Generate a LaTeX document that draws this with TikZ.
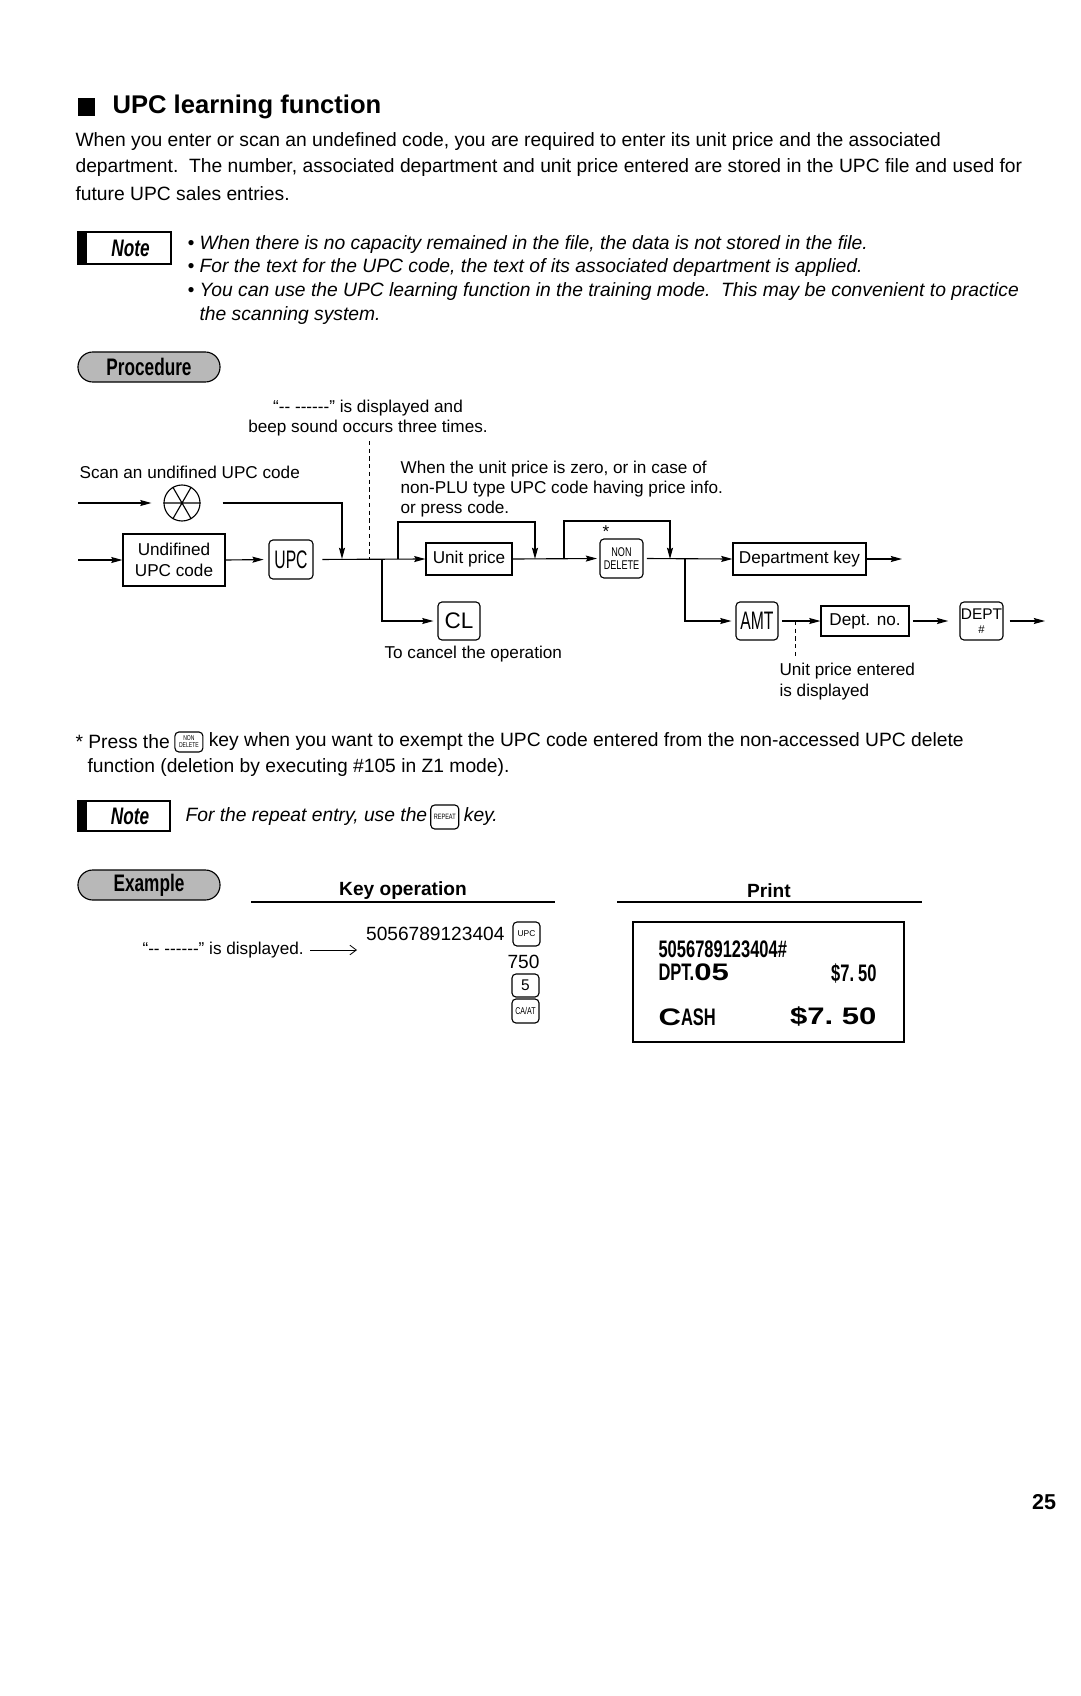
\documentclass[tikz,border=0pt]{standalone}
\usepackage{fontspec}
\setmainfont{Liberation Sans}
\newfontfamily\narrowfont[FakeStretch=0.72]{Liberation Sans}
\newfontfamily\keyfont[FakeStretch=0.62]{Liberation Sans}
\newfontfamily\rcptfont[FakeStretch=0.69]{Liberation Sans}
\newfontfamily\widefont[FakeStretch=1.3]{Liberation Sans}
\usetikzlibrary{arrows.meta,positioning}
\newcommand\fsz[2]{\fontsize{#1}{#2}\selectfont}
\newcommand\flowf{\fsz{12.2}{14.5}}
\newcommand\bodyf{\fsz{13.7}{18}}
\newcommand\notef{\itshape\fsz{13.7}{17}}
\newcommand\dashtxt{“\mbox{-}\mbox{-} \mbox{-}\mbox{-}\mbox{-}\mbox{-}\mbox{-}\mbox{-}”}

\begin{document}
\begin{tikzpicture}[x=0.025cm,y=-0.025cm,>={Stealth[length=2.8mm,width=1.5mm,inset=0.4mm]},line width=0.8pt,
  txt/.style={inner sep=0pt,anchor=west},
  plainbox/.style={draw,inner sep=0pt,align=center,font=\flowf},
  keycap/.style={draw,rounded corners=0.1cm,inner sep=0pt,align=center},
  pill/.style={draw,fill=black!28,rounded corners=0.37cm,minimum width=3.55cm,minimum height=0.75cm,
    inner sep=0pt,font=\narrowfont\bfseries\fsz{17}{20}},
  notebox/.style={draw,minimum width=2.325cm,minimum height=0.8cm,inner sep=0pt,
    font=\narrowfont\bfseries\itshape\fsz{17}{18},
    path picture={\fill (path picture bounding box.south west) rectangle ([xshift=0.225cm]path picture bounding box.north west);}}]
\fill[white] (0,0) rectangle (1080,1696);
\useasboundingbox (0,0) rectangle (1080,1696);

\fill (78,98) rectangle (95,116);
\node[txt,font=\bfseries\fsz{18.2}{22}] (title) at (112,107) {UPC learning function};
\node[txt,font=\bodyf] (par1) at (75,142) {When you enter or scan an undefined code, you are required to enter its unit price and the associated};
\node[txt,font=\bodyf] (par2) at (75,168) {department.\ \ The number, associated department and unit price entered are stored in the UPC file and used for};
\node[txt,font=\bodyf] (par3) at (75,194) {future UPC sales entries.};

\node[notebox] (note1) at (124.5,248) {\hspace{0.3cm}Note};
\node[txt,font=\notef] (b1) at (187,245) {• When there is no capacity remained in the file, the data is not stored in the file.};
\node[txt,font=\notef] (b2) at (187,268) {• For the text for the UPC code, the text of its associated department is applied.};
\node[txt,font=\notef] (b3) at (187,292) {• You can use the UPC learning function in the training mode.\ \ This may be convenient to practice};
\node[txt,font=\notef] (b4) at (199,316) {the scanning system.};

\node[pill] (proc) at (149,367) {Procedure};

\node[align=center,inner sep=0pt,font=\flowf] (disp) at (368,418) {\dashtxt{} is displayed and\\beep sound occurs three times.};
\node[txt,font=\flowf] (scantxt) at (79,472) {Scan an undifined UPC code};
\node[txt,font=\flowf,align=left] (whentxt) at (400,489) {When the unit price is zero, or in case of\\non-PLU type UPC code having price info.\\or press code.};

\node[circle,draw,minimum size=0.9cm,inner sep=0pt] (scan) at (182,503) {};
\draw (scan.180) -- (scan.0) (scan.120) -- (scan.300) (scan.60) -- (scan.240);
\node[plainbox,minimum width=2.55cm,minimum height=1.3cm] (ubox) at (174,560) {Undifined\\UPC code};
\node[keycap,minimum width=1.1cm,minimum height=0.975cm,font=\keyfont\fsz{18}{20}] (upc) at (291,559.5) {UPC};
\node[plainbox,minimum width=2.15cm,minimum height=0.8cm] (uprice) at (469,559) {Unit price};
\node[keycap,minimum width=1.075cm,minimum height=0.975cm,font=\narrowfont\fsz{9}{9.5}] (nondel) at (621.5,558.5) {NON\\DELETE};
\node[inner sep=0pt,font=\flowf] (star) at (606,532) {*};
\node[plainbox,minimum width=3.325cm,minimum height=0.8cm] (deptkey) at (799.5,559) {Department key};
\node[keycap,minimum width=1.05cm,minimum height=0.95cm,font=\fsz{16}{18}] (cl) at (459,621) {CL};
\node[keycap,minimum width=1.05cm,minimum height=0.95cm,font=\keyfont\fsz{18}{20}] (amt) at (757,621) {AMT};
\node[plainbox,minimum width=2.2cm,minimum height=0.75cm] (deptno) at (865,621) {Dept. no.};
\node[keycap,minimum width=1.075cm,minimum height=0.95cm,font=\fsz{11}{10}] (deptnum) at (981.5,621) {DEPT\\{\fsz{8}{8}\#}};

\coordinate (in1) at (78,503);
\coordinate (in2) at (78,560);
\coordinate (j1) at (342,559);
\coordinate (jb) at (382,559);
\coordinate (ju) at (398,559);
\coordinate (j2) at (535,559);
\coordinate (ju2) at (564,559);
\coordinate (j3) at (670,559);
\coordinate (jd) at (685,559);
\coordinate (out1) at (902,559);
\coordinate (out2) at (1045,621);
\coordinate (dtop) at (369,441);
\coordinate (dbot) at (369,559);
\coordinate (da) at (795,621);
\coordinate (db) at (795,658);

\draw[->,shorten >=0.3cm] (in1) -- (scan.west);
\draw[->] ([xshift=0.55cm]scan.east) -| (j1);
\draw[->] (in2) -- (ubox.west);
\draw[->,shorten >=0.12cm] (ubox.east) -- (upc.west);
\draw[->,shorten <=0.22cm] (upc.east) -- (uprice.west);
\draw[line width=0.6pt,dash pattern=on 3pt off 2.5pt] (dtop) -- (dbot);
\draw[->,shorten >=0.1cm] (jb) |- (cl.west);
\draw[->] (ju) -- ++(0,-37) -| (j2);
\draw[->,shorten >=0.06cm] (uprice.east) -- (nondel.west);
\draw[->] (ju2) -- ++(0,-38) -| (j3);
\draw[->,shorten <=0.08cm] (nondel.east) -- (deptkey.west);
\draw[->,shorten >=0.1cm] (jd) |- (amt.west);
\draw[->] (deptkey.east) -- (out1);
\draw[->,shorten <=0.08cm] (amt.east) -- (deptno.west);
\draw[line width=0.6pt,dash pattern=on 3pt off 2.5pt] (da) -- (db);
\draw[->,shorten <=0.08cm,shorten >=0.28cm] (deptno.east) -- (deptnum.west);
\draw[->,shorten <=0.15cm] (deptnum.east) -- (out2);

\node[txt,font=\flowf] (canceltxt) at (384,654) {To cancel the operation};
\node[txt,font=\flowf,align=left] (uptxt) at (779,681.5) {Unit price entered\\is displayed};

\node[txt,font=\bodyf] (fn1a) at (75,742) {* Press the};
\node[keycap,minimum width=0.7cm,minimum height=0.5cm,font=\narrowfont\fsz{5}{5},right=0.1cm of fn1a] (fnkey) {NON\\DELETE};
\node[txt,font=\bodyf,right=0.12cm of fnkey] (fn1b) {key when you want to exempt the UPC code entered from the non-accessed UPC delete};
\node[txt,font=\bodyf] (fn2) at (87,768) {function (deletion by executing \#105 in Z1 mode).};

\node[notebox,minimum width=2.3cm,minimum height=0.75cm] (note2) at (124,816) {\hspace{0.3cm}Note};
\node[txt,font=\notef] (rep1) at (185,817) {For the repeat entry, use the};
\node[keycap,minimum width=0.7cm,minimum height=0.6cm,font=\narrowfont\fsz{5.5}{5.5},right=0.06cm of rep1] (repkey) {REPEAT};
\node[txt,font=\notef,right=0.1cm of repkey] (rep2) {key.};

\node[pill] (expl) at (149,885) {Example};
\node[inner sep=0pt,font=\bfseries\fsz{13.6}{16}] (keyop) at (403,891) {Key operation};
\draw (251,902) -- (555,902);
\node[inner sep=0pt,font=\bfseries\fsz{13.6}{16}] (prt) at (769,891) {Print};
\draw (617,902) -- (922,902);

\node[txt,font=\flowf] (disp2) at (142,950) {\dashtxt{} is displayed.};
\coordinate (ar2) at (357,950);
\draw[-{Straight Barb[length=1.6mm,width=2.4mm]},line width=0.6pt] ([xshift=0.15cm]disp2.east) -- (ar2);
\node[anchor=east,inner sep=0pt,font=\fsz{13.6}{16}] (code) at (505,934) {5056789123404};
\node[keycap,minimum width=0.675cm,minimum height=0.6cm,font=\fsz{6}{6}] (upcs) at (526.5,934) {UPC};
\node[anchor=east,inner sep=0pt,font=\fsz{13.6}{16}] (qty) at (540,962) {750};
\node[keycap,minimum width=0.675cm,minimum height=0.575cm,font=\fsz{11}{11}] (five) at (525.5,985.5) {5};
\node[keycap,minimum width=0.675cm,minimum height=0.6cm,font=\narrowfont\fsz{7}{7}] (caat) at (525.5,1011) {CA/AT};

\node[draw,minimum width=6.775cm,minimum height=3cm,inner sep=0pt] (rcpt) at (768.5,982) {};
\node[txt,font=\rcptfont\bfseries\fsz{17}{17}] (r1) at (658,949) {5056789123404\#};
\node[txt,font=\rcptfont\bfseries\fsz{17}{17}] (r2) at (658,972) {DPT.{\widefont 05}};
\node[anchor=east,inner sep=0pt,font=\rcptfont\bfseries\fsz{17}{17}] (r3) at (877,974) {\$7.\,50};
\node[txt,font=\rcptfont\bfseries\fsz{17}{17}] (r4) at (658,1017) {{\widefont C}ASH};
\node[anchor=east,inner sep=0pt,font=\widefont\bfseries\fsz{17}{17}] (r5) at (877,1017) {\$7.\ 50};

\node[inner sep=0pt,font=\bfseries\fsz{15.3}{18}] (pnum) at (1044,1502) {25};
\end{tikzpicture}
\end{document}
